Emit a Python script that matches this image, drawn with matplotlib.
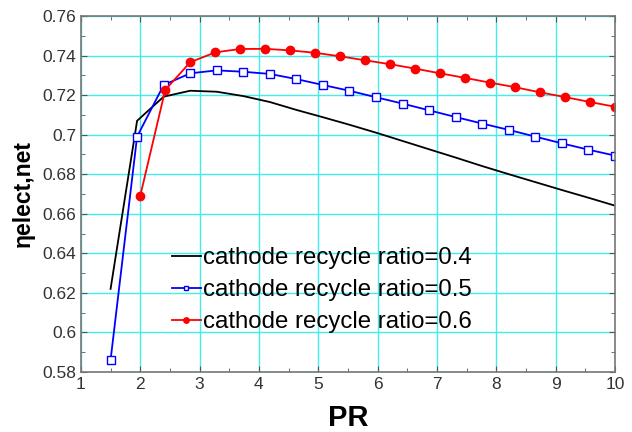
import matplotlib
matplotlib.use("Agg")
import matplotlib.pyplot as plt
from matplotlib.ticker import MultipleLocator

plt.rcParams['font.family'] = ['Liberation Sans', 'DejaVu Sans']

# PR values
pr_a = [1.5, 1.947, 2.395, 2.842, 3.289, 3.737, 4.184, 4.632, 5.079, 5.526,
        5.974, 6.421, 6.868, 7.316, 7.763, 8.211, 8.658, 9.105, 9.553, 10.0]
pr_b = [2.0, 2.421, 2.842, 3.263, 3.684, 4.105, 4.526, 4.947, 5.368, 5.789,
        6.211, 6.632, 7.053, 7.474, 7.895, 8.316, 8.737, 9.158, 9.579, 10.0]

eta_04 = [0.622, 0.707, 0.7192, 0.7222, 0.7217, 0.7195, 0.7165, 0.7125, 0.7088, 0.7050,
          0.7010, 0.6968, 0.6926, 0.6884, 0.6841, 0.6800, 0.6760, 0.6720, 0.6681, 0.6641]
eta_05 = [0.586, 0.699, 0.7251, 0.7310, 0.7325, 0.7318, 0.7307, 0.7281, 0.7251, 0.7222,
          0.7189, 0.7157, 0.7123, 0.7089, 0.7056, 0.7024, 0.6990, 0.6956, 0.6924, 0.6894]
eta_06 = [0.669, 0.7226, 0.7366, 0.7416, 0.7433, 0.7434, 0.7426, 0.7414, 0.7396, 0.7376,
          0.7356, 0.7334, 0.7310, 0.7287, 0.7263, 0.7240, 0.7214, 0.7190, 0.7165, 0.7141]

labels = ['cathode recycle ratio=0.4', 'cathode recycle ratio=0.5', 'cathode recycle ratio=0.6']

fig = plt.figure(figsize=(6.32, 4.32), dpi=100)
ax = fig.add_axes([0.128, 0.139, 0.845, 0.824])

ax.plot(pr_a, eta_04, color='black', lw=1.3, label=labels[0])
ax.plot(pr_a, eta_05, color='blue', lw=1.3, marker='s', ms=5.5, mfc='white',
        mec='blue', mew=1.0, label=labels[1])
ax.plot(pr_b, eta_06, color='red', lw=1.3, marker='o', ms=6, mfc='red',
        mec='red', label=labels[2])

ax.set_xlim(1, 10)
ax.set_ylim(0.58, 0.76)
ax.xaxis.set_major_locator(MultipleLocator(1))
ax.xaxis.set_minor_locator(MultipleLocator(0.5))
ax.yaxis.set_major_locator(MultipleLocator(0.02))
ax.yaxis.set_minor_locator(MultipleLocator(0.01))
ax.set_yticks([0.58, 0.6, 0.62, 0.64, 0.66, 0.68, 0.7, 0.72, 0.74, 0.76])
ax.set_yticklabels(['0.58', '0.6', '0.62', '0.64', '0.66', '0.68', '0.7', '0.72', '0.74', '0.76'])
ax.grid(True, which='major', color='#40eeee', lw=1.0)
ax.set_axisbelow(True)
ax.tick_params(which='both', direction='in', top=True, right=True, colors='#555555',
               labelcolor='#333333', labelsize=12.5)
ax.tick_params(which='major', length=4)
ax.tick_params(which='minor', length=3)
for s in ax.spines.values():
    s.set_color('#777777')
    s.set_linewidth(1.2)

ax.set_xlabel('PR', fontsize=21, fontweight='bold', labelpad=9)
ax.set_ylabel('ηelect,net', fontsize=16.5, fontweight='bold', labelpad=5)

leg = ax.legend(loc='upper left', bbox_to_anchor=(0.152, 0.378), frameon=False,
                fontsize=17.3, handlelength=1.2, handletextpad=0.1, labelspacing=0.42,
                borderaxespad=0, markerscale=0.65)

fig.savefig('out.png', dpi=100)
